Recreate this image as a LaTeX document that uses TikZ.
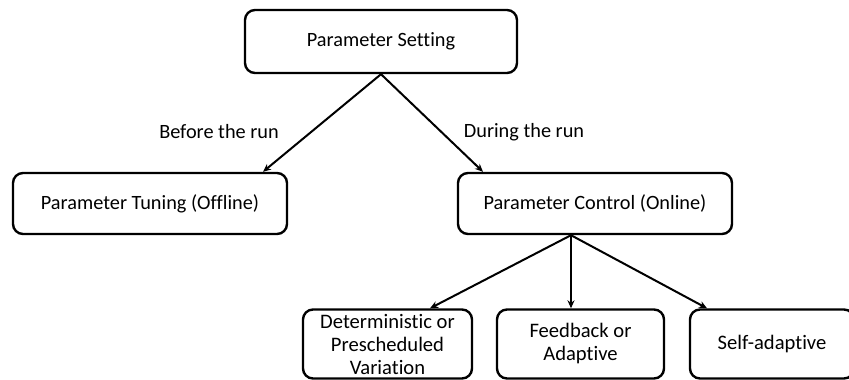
\documentclass[tikz,border=0pt]{standalone}
\usepackage{fontspec}
\setmainfont{Carlito}[Ligatures=NoCommon]
\usetikzlibrary{arrows.meta}
\begin{document}
\begin{tikzpicture}[x=1pt,y=-1pt,
  box/.style={draw=black,line width=2.4pt,rounded corners=10pt,fill=white,
    inner sep=0pt,align=center,font=\fontsize{20.3}{23}\selectfont},
  small/.style={font=\fontsize{20.6}{23}\selectfont},
  link/.style={line width=2pt,-{Stealth[length=8pt,width=7pt]}},
  lbl/.style={font=\fontsize{20.3}{23}\selectfont,inner sep=0pt}]
  \useasboundingbox (0,0) rectangle (849,380);
  \clip (0,0) rectangle (849,380);
  \fill[white] (0,0) rectangle (849,380);

  % upper levels
  \node[box,minimum width=272,minimum height=63] (top) at (381,41.5) {Parameter Setting};
  \node[box,minimum width=274,minimum height=61] (tune) at (150,203.5) {Parameter Tuning (Offline)};
  \node[box,minimum width=274,minimum height=61] (ctrl) at (595,203.5) {Parameter Control (Online)};

  % kinds of parameter control
  \node[box,small,minimum width=169,minimum height=69] (det) at (387.5,344) {Deterministic or\\Prescheduled\\Variation};
  \node[box,small,minimum width=167,minimum height=69] (fb) at (580.5,344) {Feedback or\\Adaptive};
  \node[box,small,minimum width=164,minimum height=69] (self) at (772,344) {Self-adaptive};

  % connectors
  \draw[link] (top.south) -- ([xshift=113]tune.north);
  \draw[link] (top.south) -- ([xshift=-112]ctrl.north);
  \draw[link] ([xshift=-24]ctrl.south) -- ([xshift=42.5]det.north);
  \draw[link] ([xshift=-24]ctrl.south) -- ([xshift=-9.5]fb.north);
  \draw[link] ([xshift=-24]ctrl.south) -- ([xshift=-65]self.north);

  % edge labels
  \node[lbl] (before) at (219,132) {Before the run};
  \node[lbl] (during) at (524,132) {During the run};
\end{tikzpicture}
\end{document}
